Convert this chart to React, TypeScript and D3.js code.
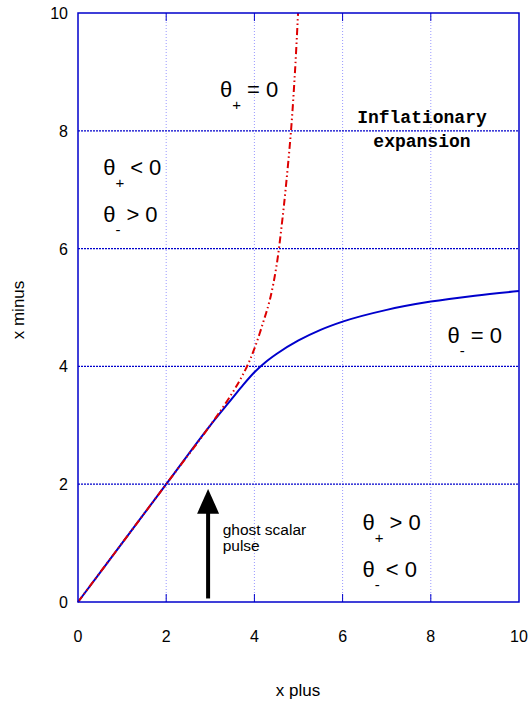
import React from 'react';
import * as d3 from 'd3';

// values
const xTicks = [0, 2, 4, 6, 8, 10];
const yTicks = [0, 2, 4, 6, 8, 10];
const blueX = [0, 1, 2, 3, 3.5, 3.75, 4.0, 4.25, 4.5, 5, 5.5, 6, 7, 8, 9, 10];
const blueY = [0, 1, 2, 3, 3.46, 3.69, 3.9, 4.07, 4.21, 4.44, 4.62, 4.76, 4.96, 5.1, 5.2, 5.28];
const redX = [0, 1, 2, 3, 3.5, 3.8, 4.0, 4.2, 4.35, 4.5, 4.62, 4.72, 4.83, 4.92, 4.99];
const redY = [0, 1, 2, 3, 3.55, 3.95, 4.3, 4.75, 5.13, 5.7, 6.4, 7.1, 8, 9, 10];

const W = 528;
const H = 706;
const margin = { top: 13, right: 9, bottom: 104, left: 78 };
const BLUE = '#0000cc';
const RED = '#dd0000';

const Theta = ({ x, y, sub, rest }: { x: number; y: number; sub: string; rest: string }) => (
  <text x={x} y={y} fontSize={22} fontFamily="Liberation Sans, Arial, sans-serif" fill="#000">
    <tspan>θ</tspan>
    <tspan dy={13} fontSize={15}>{sub}</tspan>
    <tspan dy={-13} dx={6}>{rest}</tspan>
  </text>
);

const App = () => {
  const innerW = W - margin.left - margin.right;
  const innerH = H - margin.top - margin.bottom;

  const x = d3.scaleLinear().domain([0, 10]).range([0, innerW]);
  const y = d3.scaleLinear().domain([0, 10]).range([innerH, 0]);

  const bluePts: [number, number][] = blueX.map((v, i) => [x(v), y(blueY[i])]);
  const redPts: [number, number][] = redX.map((v, i) => [x(v), y(redY[i])]);
  const bluePath = d3.line().curve(d3.curveMonotoneX);
  const redPath = d3.line().curve(d3.curveCatmullRom.alpha(0.5));

  const font = 'Liberation Sans, Arial, sans-serif';
  const mono = 'Liberation Mono, Courier New, monospace';

  return (
    <svg width={W} height={H} style={{ position: 'absolute', left: 0, top: 0, background: '#fff' }}>
      <g transform={`translate(${margin.left},${margin.top})`}>
        {/* vertical grid */}
        {xTicks.slice(1, -1).map(t => (
          <line key={'vx' + t} x1={x(t)} x2={x(t)} y1={0} y2={innerH}
            stroke="#9999ff" strokeWidth={1} strokeDasharray="1,2" />
        ))}
        {/* horizontal grid */}
        {yTicks.slice(1, -1).map(t => (
          <line key={'hy' + t} x1={0} x2={innerW} y1={y(t)} y2={y(t)}
            stroke={BLUE} strokeWidth={1.2} strokeDasharray="2,1" />
        ))}
        {/* ticks top / bottom */}
        {xTicks.slice(1, -1).map(t => (
          <g key={'tk' + t}>
            <line x1={x(t)} x2={x(t)} y1={0} y2={8} stroke={BLUE} strokeWidth={1} />
            <line x1={x(t)} x2={x(t)} y1={innerH} y2={innerH - 8} stroke={BLUE} strokeWidth={1} />
          </g>
        ))}
        {/* curves */}
        <path d={bluePath(bluePts) || ''} fill="none" stroke={BLUE} strokeWidth={2} />
        <path d={redPath(redPts) || ''} fill="none" stroke={RED} strokeWidth={2}
          strokeDasharray="7,3,1.5,3,1.5,3" />
        {/* frame */}
        <rect x={0} y={0} width={innerW} height={innerH} fill="none" stroke={BLUE} strokeWidth={1.5} />
        {/* tick labels */}
        {xTicks.map(t => (
          <text key={'xl' + t} x={x(t)} y={innerH + 40} textAnchor="middle"
            fontSize={16} fontFamily={font}>{t}</text>
        ))}
        {yTicks.map(t => (
          <text key={'yl' + t} x={-10} y={y(t) + 6} textAnchor="end"
            fontSize={16} fontFamily={font}>{t}</text>
        ))}
        {/* arrow */}
        <line x1={x(2.95)} x2={x(2.95)} y1={y(0.06)} y2={y(1.55)} stroke="#000" strokeWidth={4} />
        <path d={`M${x(2.95)},${y(1.92)} L${x(2.95) - 11},${y(1.5)} L${x(2.95) + 11},${y(1.5)} Z`} fill="#000" />
        <text x={x(3.28)} y={y(1.14)} fontSize={15.5} fontFamily={font}>ghost scalar</text>
        <text x={x(3.28)} y={y(0.86)} fontSize={15.5} fontFamily={font}>pulse</text>
        {/* region labels */}
        <Theta x={x(3.22)} y={y(8.57)} sub="+" rest="= 0" />
        <Theta x={x(0.57)} y={y(7.25)} sub="+" rest="< 0" />
        <Theta x={x(0.57)} y={y(6.45)} sub="-" rest="> 0" />
        <Theta x={x(8.38)} y={y(4.4)} sub="-" rest="= 0" />
        <Theta x={x(6.45)} y={y(1.22)} sub="+" rest="> 0" />
        <Theta x={x(6.45)} y={y(0.43)} sub="-" rest="< 0" />
        <text x={x(7.8)} y={y(8.13)} textAnchor="middle" fontSize={18} fontWeight="bold"
          fontFamily={mono}>Inflationary</text>
        <text x={x(7.8)} y={y(7.73)} textAnchor="middle" fontSize={18} fontWeight="bold"
          fontFamily={mono}>expansion</text>
      </g>
      {/* axis titles */}
      <text x={298} y={696} textAnchor="middle" fontSize={17} fontFamily={font}>x plus</text>
      <text transform="translate(24,310) rotate(-90)" textAnchor="middle" fontSize={17} fontFamily={font}>x minus</text>
    </svg>
  );
};

export default App;
